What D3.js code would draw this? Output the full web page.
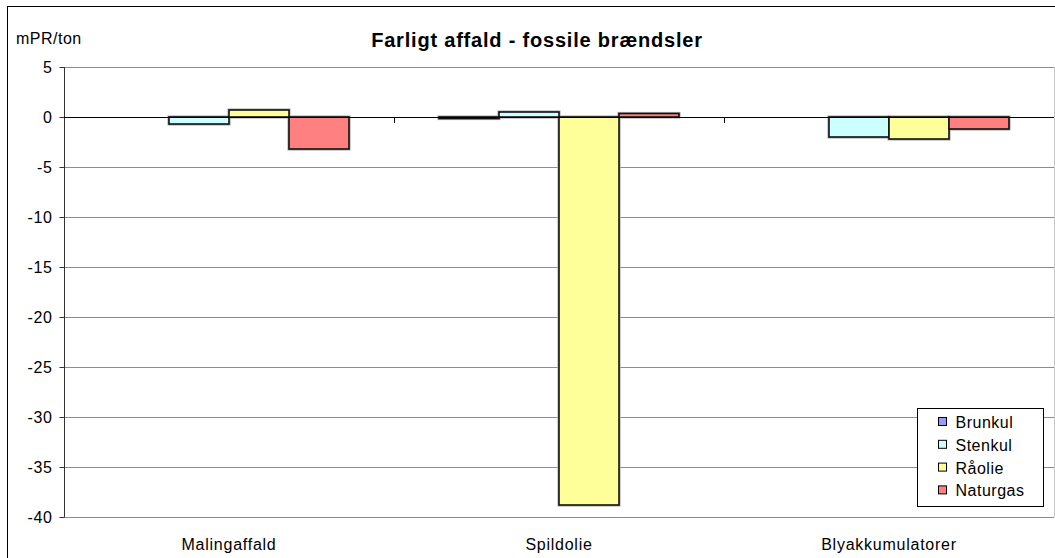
<!DOCTYPE html>
<html>
<head>
<meta charset="utf-8">
<script src="https://cdn.jsdelivr.net/npm/d3@7"></script>
<style>
  html, body { margin: 0; padding: 0; background: #fff; }
  svg { display: block; font-family: "Liberation Sans", Arial, sans-serif; }
</style>
</head>
<body>
<svg id="chart" width="1055" height="558"></svg>
<script>
// Categories, series and values (mPR/ton)
const categories = ["Malingaffald", "Spildolie", "Blyakkumulatorer"];
const seriesNames = ["Brunkul", "Stenkul", "Råolie", "Naturgas"];
const seriesColors = ["#9999FF", "#CCFFFF", "#FFFF99", "#FF8080"];
const brunkul  = [0, -0.15, 0];
const stenkul  = [-0.7, 0.5, -2.0];
const raaolie  = [0.7, -38.8, -2.2];
const naturgas = [-3.2, 0.35, -1.2];
const yTicks = [5, 0, -5, -10, -15, -20, -25, -30, -35, -40];
const title = "Farligt affald - fossile brændsler";
const unitLabel = "mPR/ton";

const seriesValues = [brunkul, stenkul, raaolie, naturgas];

const svg = d3.select("#chart");

// Outer chart frame
svg.append("rect")
  .attr("x", 7.5).attr("y", 6.5)
  .attr("width", 1080).attr("height", 580)
  .attr("fill", "none").attr("stroke", "#000").attr("stroke-width", 1);

const plot = { left: 64, right: 1054, top: 67, bottom: 517 };

const y = d3.scaleLinear().domain([-40, 5]).range([plot.bottom, plot.top]);
const x = d3.scaleBand().domain(categories).range([plot.left, plot.right]).padding(0);
const bw = x.bandwidth();
const xs = d3.scaleBand().domain(seriesNames)
  .range([bw * 45 / 330, bw * 285 / 330]).padding(0);

// Gridlines
svg.append("g").selectAll("line")
  .data(yTicks.filter(t => t !== 0))
  .join("line")
  .attr("x1", plot.left).attr("x2", plot.right)
  .attr("y1", d => Math.round(y(d)) + 0.5).attr("y2", d => Math.round(y(d)) + 0.5)
  .attr("stroke", "#8c8c8c").attr("stroke-width", 1);

// Right edge of the plot area
svg.append("line")
  .attr("x1", plot.right + 0.5).attr("x2", plot.right + 0.5)
  .attr("y1", plot.top).attr("y2", plot.bottom)
  .attr("stroke", "#c8c8c8");

// Y axis (plain hyphen for negative numbers)
const yAxis = d3.axisLeft(y).tickValues(yTicks).tickSize(5).tickPadding(7)
  .tickFormat(d => String(d));
const gy = svg.append("g")
  .attr("transform", `translate(${plot.left + 0.5},0)`)
  .call(yAxis);
gy.select(".domain").attr("stroke", "#333").attr("d", `M0,${plot.top}V${plot.bottom}`);
gy.selectAll(".tick line").attr("stroke", "#333");
gy.selectAll(".tick text")
  .attr("fill", "#000")
  .style("font-size", "16px")
  .style("letter-spacing", "0.6px")
  .style("font-family", "'Liberation Sans', Arial, sans-serif");
gy.selectAll(".tick").attr("transform", d => `translate(0,${Math.round(y(d)) + 0.5})`);

// Bars
const groups = svg.append("g").selectAll("g")
  .data(categories)
  .join("g")
  .attr("transform", d => `translate(${x(d)},0)`);

const barData = (c, i) => seriesNames.map((s, k) => ({ s, k, v: seriesValues[k][i] }));

// soft grey halo under each bar outline
groups.selectAll("rect.halo")
  .data((c, i) => barData(c, i).filter(d => d.v !== 0))
  .join("rect")
  .attr("class", "halo")
  .attr("x", d => xs(d.s))
  .attr("width", xs.bandwidth())
  .attr("y", d => Math.min(y(d.v), y(0)))
  .attr("height", d => Math.abs(y(d.v) - y(0)))
  .attr("fill", "none").attr("stroke", "#b0b0b0").attr("stroke-width", 3.2);

// Zero line
svg.append("line")
  .attr("x1", plot.left).attr("x2", plot.right)
  .attr("y1", Math.round(y(0)) + 0.5).attr("y2", Math.round(y(0)) + 0.5)
  .attr("stroke", "#000").attr("stroke-width", 1);

// Category ticks on the zero line
svg.append("g").selectAll("line")
  .data(categories.slice(1))
  .join("line")
  .attr("x1", d => x(d) + 0.5).attr("x2", d => x(d) + 0.5)
  .attr("y1", Math.round(y(0))).attr("y2", Math.round(y(0)) + 6)
  .attr("stroke", "#000");

groups.selectAll("rect.bar")
  .data((c, i) => barData(c, i).filter(d => d.v !== 0))
  .join("rect")
  .attr("class", "bar")
  .attr("x", d => xs(d.s))
  .attr("width", xs.bandwidth())
  .attr("y", d => Math.min(y(d.v), y(0)))
  .attr("height", d => Math.abs(y(d.v) - y(0)))
  .attr("fill", d => seriesColors[d.k])
  .attr("stroke", "#111").attr("stroke-width", 1.6);

// Category labels
svg.append("g").selectAll("text")
  .data(categories)
  .join("text")
  .attr("x", d => x(d) + bw / 2)
  .attr("y", 550)
  .attr("text-anchor", "middle")
  .style("font-size", "16px")
  .style("letter-spacing", "0.75px")
  .text(d => d);

// Title and unit label
svg.append("text")
  .attr("x", 537).attr("y", 46.5)
  .attr("text-anchor", "middle")
  .style("font-size", "20px").style("font-weight", "bold")
  .style("letter-spacing", "0.8px")
  .text(title);

svg.append("text")
  .attr("x", 16).attr("y", 44)
  .style("font-size", "16px")
  .style("letter-spacing", "0.5px")
  .text(unitLabel);

// Legend
const legend = svg.append("g").attr("transform", "translate(917.5,408.5)");
legend.append("rect")
  .attr("width", 126).attr("height", 98)
  .attr("fill", "#fff").attr("stroke", "#000");
const items = legend.selectAll("g.item")
  .data(seriesNames)
  .join("g")
  .attr("class", "item")
  .attr("transform", (d, i) => `translate(0,${13.5 + i * 22.8})`);
items.append("rect")
  .attr("x", 21).attr("y", -4.5).attr("width", 8).attr("height", 8)
  .attr("fill", (d, i) => seriesColors[i]).attr("stroke", "#000");
items.append("text")
  .attr("x", 38).attr("y", 6)
  .style("font-size", "16px")
  .style("letter-spacing", "0.5px")
  .text(d => d);
</script>
</body>
</html>
